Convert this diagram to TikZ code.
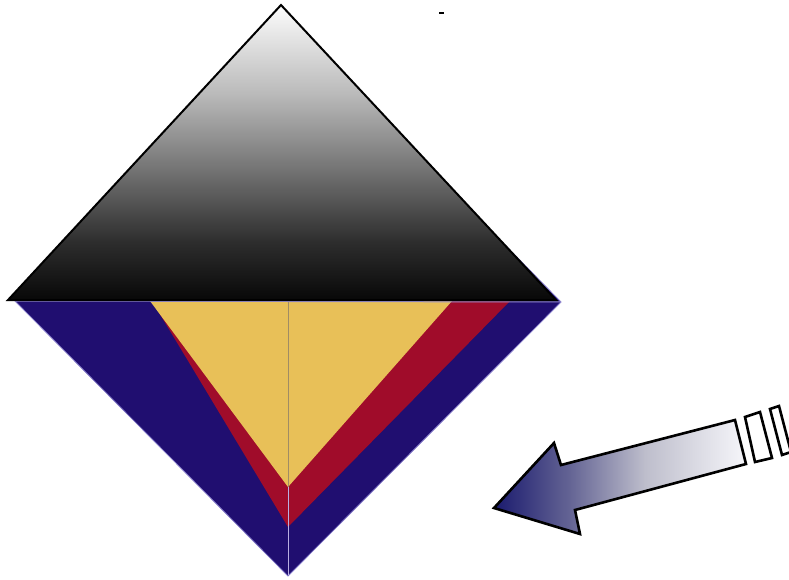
\documentclass[tikz,border=0pt]{standalone}
\usetikzlibrary{calc}
\definecolor{dblue}{RGB}{32,14,112}
\definecolor{halo}{RGB}{130,120,200}
\definecolor{dred}{RGB}{160,12,42}
\definecolor{mustard}{RGB}{232,192,88}
\definecolor{navyarrow}{RGB}{26,26,110}
\definecolor{q1arrow}{RGB}{100,100,148}
\definecolor{midarrow}{RGB}{190,190,204}
\definecolor{endarrow}{RGB}{246,246,250}
\pgfdeclareverticalshading{trishade}{100bp}{color(0bp)=(black); color(25bp)=(black!97); color(35bp)=(black!82); color(47bp)=(black!55); color(60bp)=(black!27); color(75bp)=(white!99!black); color(100bp)=(white)}
\pgfdeclarehorizontalshading{arrowshade}{100bp}{color(0bp)=(navyarrow); color(25bp)=(navyarrow); color(40bp)=(q1arrow); color(55bp)=(midarrow); color(75bp)=(endarrow); color(100bp)=(endarrow)}
\tikzset{
  bluepart/.style={fill=dblue, draw=halo, line width=0.8pt, line join=round},
  redpart/.style={fill=dred},
  yellowpart/.style={fill=mustard},
  toptri/.style={shading=trishade, draw=black, line width=2pt, line join=miter},
  arrowbody/.style={shading=arrowshade, draw=black, line width=2.6pt, line join=miter},
  stripe/.style={fill=white, draw=black, line width=2.6pt, line join=miter}
}
\begin{document}
\begin{tikzpicture}[x=1pt,y=1pt]
\useasboundingbox (0,0) rectangle (789,-580);
% coordinates
\coordinate (apex) at (281,-5);
\coordinate (bl) at (8,-300);
\coordinate (br) at (556,-300);
\coordinate (dbl) at (15,-301);
\coordinate (dbt) at (505,-245);
\coordinate (dbr) at (561,-302);
\coordinate (dbb) at (288,-576);
\coordinate (rl) at (152,-301);
\coordinate (rr) at (510,-301);
\coordinate (rb) at (288,-527);
\coordinate (yl) at (150,-301);
\coordinate (yr) at (452,-301);
\coordinate (yb) at (288,-487);
\coordinate (vtop) at (288,-301);
\coordinate (vbot) at (288,-575);
% blue diamond part
\path[bluepart] (dbl) -- (dbt) -- (dbr) -- (dbb) -- cycle;
% red
\path[redpart] (rl) -- (rr) -- (rb) -- cycle;
% yellow
\path[yellowpart] (yl) -- (yr) -- (yb) -- cycle;
% vertical line
\draw[color={rgb,255:red,160;green,140;blue,100}, line width=1pt] (vtop) -- (yb);
\draw[color={rgb,255:red,185;green,175;blue,225}, line width=1pt] (yb) -- (vbot);
% lavender base line
\draw[halo!80!white, line width=1pt] (dbl) -- (dbr);
% top triangle
\path[toptri] (apex) -- (br) -- (bl) -- cycle;
% tiny mark
\fill[black] (439,-12.5) rectangle (444,-14.5);
% arrow
\coordinate (tip) at (494,-508);
\coordinate (ub) at (554,-443);
\coordinate (ui) at (561,-465);
\coordinate (ue) at (735,-420);
\coordinate (le) at (746,-464);
\coordinate (li) at (575,-510);
\coordinate (lb) at (580,-534);
\path[arrowbody] (tip) -- (ub) -- (ui) -- (ue) -- (le) -- (li) -- (lb) -- cycle;
\path[stripe] (745,-417) -- (760,-412) -- (772,-458) -- (755,-462) -- cycle;
\begin{scope}
\clip (0,0) rectangle (789,-580);
\path[stripe] (770,-409) -- (779,-406) -- (791,-452) -- (782,-455) -- cycle;
\end{scope}
\end{tikzpicture}
\end{document}
